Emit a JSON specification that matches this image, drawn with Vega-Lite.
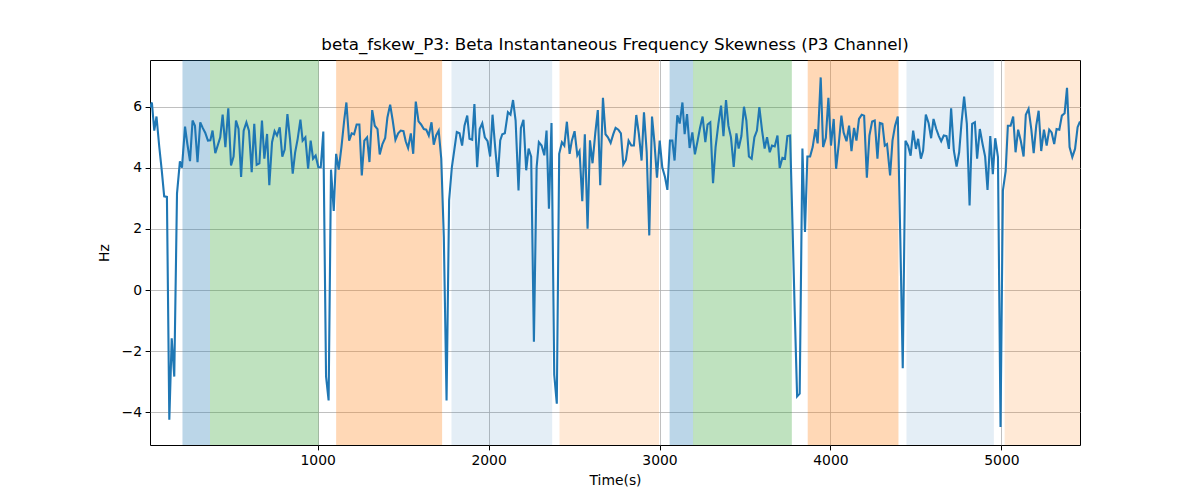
{
"$schema": "https://vega.github.io/schema/vega-lite/v6.json",
"width": 930, "height": 385,
"autosize": "none",
"padding": {"left": 150, "top": 60, "right": 120, "bottom": 55},
"background": "white",
"config": {
 "font": "DejaVu Sans",
 "view": {"stroke": "black", "strokeWidth": 1},
 "axis": {"grid": true, "gridColor": "#b0b0b0", "gridWidth": 0.8, "domain": false, "tickColor": "black", "tickSize": 4.9, "tickWidth": 1, "labelFontSize": 13.9, "labelColor": "black", "labelPadding": 3.5, "titleFontSize": 13.9, "titleFontWeight": "normal", "titleColor": "black", "labelFont": "DejaVu Sans", "titleFont": "DejaVu Sans"}
},
"title": {"text": "beta_fskew_P3: Beta Instantaneous Frequency Skewness (P3 Channel)", "fontSize": 16.7, "fontWeight": "normal", "font": "DejaVu Sans", "color": "black", "offset": 6},
"datasets": {
 "spans": [
  {"start": 209, "end": 370, "kind": "s1"},
  {"start": 370, "end": 1006, "kind": "s2"},
  {"start": 1108, "end": 1728, "kind": "s3"},
  {"start": 1783, "end": 2372, "kind": "s4"},
  {"start": 2415, "end": 2997, "kind": "s5"},
  {"start": 3059, "end": 3196, "kind": "s1"},
  {"start": 3196, "end": 3774, "kind": "s2"},
  {"start": 3867, "end": 4398, "kind": "s3"},
  {"start": 4445, "end": 4956, "kind": "s4"},
  {"start": 5019, "end": 5460, "kind": "s5"}
 ],
 "series": [
  {"t":19,"v":5.98},{"t":30,"v":6.14},{"t":44,"v":5.22},{"t":57,"v":5.68},{"t":73,"v":4.7},{"t":88,"v":3.9},{"t":102,"v":3.07},{"t":118,"v":3.05},{"t":132,"v":-4.24},{"t":146,"v":-1.58},{"t":161,"v":-2.83},{"t":177,"v":3.16},{"t":194,"v":4.21},{"t":206,"v":4.01},{"t":224,"v":5.35},{"t":237,"v":4.8},{"t":253,"v":4.22},{"t":268,"v":5.55},{"t":282,"v":5.38},{"t":297,"v":4.19},{"t":313,"v":5.49},{"t":328,"v":5.3},{"t":342,"v":5.15},{"t":358,"v":4.89},{"t":372,"v":4.9},{"t":385,"v":5.22},{"t":401,"v":4.48},{"t":416,"v":4.75},{"t":430,"v":5.0},{"t":444,"v":5.74},{"t":460,"v":4.68},{"t":477,"v":5.95},{"t":493,"v":4.08},{"t":508,"v":4.37},{"t":522,"v":5.55},{"t":537,"v":5.27},{"t":552,"v":3.7},{"t":567,"v":5.22},{"t":583,"v":5.49},{"t":598,"v":5.22},{"t":614,"v":3.86},{"t":629,"v":5.44},{"t":643,"v":4.1},{"t":659,"v":4.15},{"t":674,"v":5.55},{"t":688,"v":4.3},{"t":704,"v":5.11},{"t":717,"v":3.43},{"t":733,"v":4.84},{"t":748,"v":5.2},{"t":762,"v":5.06},{"t":778,"v":5.33},{"t":793,"v":4.37},{"t":807,"v":4.6},{"t":823,"v":5.76},{"t":838,"v":4.95},{"t":854,"v":3.81},{"t":868,"v":4.5},{"t":883,"v":4.95},{"t":899,"v":5.58},{"t":912,"v":4.89},{"t":928,"v":5.0},{"t":944,"v":3.97},{"t":959,"v":4.89},{"t":973,"v":4.3},{"t":988,"v":4.4},{"t":1004,"v":4.02},{"t":1018,"v":4.02},{"t":1033,"v":5.19},{"t":1049,"v":-2.83},{"t":1064,"v":-3.61},{"t":1078,"v":3.94},{"t":1094,"v":2.59},{"t":1108,"v":4.46},{"t":1123,"v":3.94},{"t":1139,"v":4.68},{"t":1155,"v":5.55},{"t":1168,"v":6.14},{"t":1184,"v":4.89},{"t":1199,"v":5.13},{"t":1213,"v":5.1},{"t":1228,"v":5.42},{"t":1244,"v":5.42},{"t":1258,"v":3.75},{"t":1273,"v":4.89},{"t":1289,"v":5.0},{"t":1303,"v":4.19},{"t":1319,"v":5.89},{"t":1334,"v":5.38},{"t":1350,"v":5.27},{"t":1363,"v":4.44},{"t":1379,"v":4.78},{"t":1395,"v":4.98},{"t":1408,"v":5.65},{"t":1424,"v":6.07},{"t":1439,"v":5.55},{"t":1455,"v":4.92},{"t":1471,"v":5.13},{"t":1486,"v":5.22},{"t":1502,"v":5.2},{"t":1515,"v":4.87},{"t":1529,"v":4.65},{"t":1545,"v":5.13},{"t":1559,"v":4.46},{"t":1574,"v":6.17},{"t":1590,"v":5.52},{"t":1605,"v":5.42},{"t":1621,"v":5.27},{"t":1635,"v":5.25},{"t":1650,"v":5.06},{"t":1666,"v":5.49},{"t":1679,"v":4.76},{"t":1693,"v":5.06},{"t":1708,"v":5.22},{"t":1723,"v":4.3},{"t":1738,"v":1.74},{"t":1754,"v":-3.61},{"t":1769,"v":2.94},{"t":1785,"v":4.02},{"t":1799,"v":4.57},{"t":1814,"v":5.17},{"t":1830,"v":5.13},{"t":1845,"v":4.73},{"t":1859,"v":5.38},{"t":1875,"v":5.71},{"t":1888,"v":4.95},{"t":1904,"v":4.92},{"t":1917,"v":6.09},{"t":1933,"v":4.02},{"t":1948,"v":5.27},{"t":1963,"v":5.46},{"t":1978,"v":5.0},{"t":1994,"v":4.87},{"t":2009,"v":4.37},{"t":2023,"v":5.74},{"t":2039,"v":4.63},{"t":2054,"v":3.7},{"t":2068,"v":4.9},{"t":2080,"v":5.1},{"t":2095,"v":5.13},{"t":2113,"v":5.82},{"t":2128,"v":5.74},{"t":2143,"v":6.22},{"t":2158,"v":5.55},{"t":2175,"v":3.26},{"t":2189,"v":5.31},{"t":2204,"v":5.57},{"t":2220,"v":3.92},{"t":2234,"v":4.63},{"t":2249,"v":4.37},{"t":2265,"v":-1.69},{"t":2281,"v":4.02},{"t":2294,"v":4.84},{"t":2310,"v":4.73},{"t":2326,"v":4.41},{"t":2339,"v":5.22},{"t":2353,"v":2.66},{"t":2368,"v":5.47},{"t":2384,"v":-2.77},{"t":2399,"v":-3.72},{"t":2413,"v":4.46},{"t":2429,"v":4.84},{"t":2443,"v":4.73},{"t":2458,"v":5.51},{"t":2474,"v":4.46},{"t":2487,"v":4.89},{"t":2503,"v":5.2},{"t":2519,"v":4.41},{"t":2532,"v":4.55},{"t":2548,"v":2.91},{"t":2563,"v":5.1},{"t":2579,"v":2.01},{"t":2593,"v":4.9},{"t":2608,"v":4.15},{"t":2624,"v":5.13},{"t":2639,"v":5.89},{"t":2653,"v":3.43},{"t":2669,"v":6.29},{"t":2684,"v":5.1},{"t":2698,"v":5.0},{"t":2714,"v":4.82},{"t":2730,"v":5.11},{"t":2743,"v":5.31},{"t":2759,"v":5.25},{"t":2774,"v":5.13},{"t":2788,"v":4.11},{"t":2803,"v":4.26},{"t":2819,"v":4.89},{"t":2835,"v":4.73},{"t":2850,"v":4.73},{"t":2864,"v":5.73},{"t":2879,"v":5.11},{"t":2895,"v":4.24},{"t":2909,"v":5.82},{"t":2925,"v":4.51},{"t":2940,"v":1.79},{"t":2956,"v":5.68},{"t":2970,"v":4.84},{"t":2985,"v":3.68},{"t":3001,"v":4.89},{"t":3016,"v":4.02},{"t":3032,"v":3.7},{"t":3046,"v":3.28},{"t":3061,"v":4.89},{"t":3075,"v":4.89},{"t":3088,"v":4.24},{"t":3104,"v":5.72},{"t":3118,"v":5.45},{"t":3134,"v":6.14},{"t":3147,"v":5.1},{"t":3161,"v":5.76},{"t":3176,"v":4.65},{"t":3192,"v":5.16},{"t":3207,"v":4.44},{"t":3223,"v":4.89},{"t":3237,"v":5.31},{"t":3252,"v":5.68},{"t":3268,"v":4.84},{"t":3281,"v":5.42},{"t":3297,"v":5.49},{"t":3313,"v":3.5},{"t":3328,"v":4.68},{"t":3344,"v":5.42},{"t":3360,"v":6.04},{"t":3374,"v":5.04},{"t":3389,"v":6.22},{"t":3403,"v":5.38},{"t":3418,"v":5.0},{"t":3434,"v":4.03},{"t":3450,"v":5.13},{"t":3463,"v":4.63},{"t":3479,"v":5.04},{"t":3494,"v":6.0},{"t":3508,"v":5.55},{"t":3523,"v":4.37},{"t":3539,"v":4.3},{"t":3555,"v":5.0},{"t":3570,"v":5.22},{"t":3584,"v":5.99},{"t":3600,"v":5.22},{"t":3615,"v":4.63},{"t":3629,"v":5.0},{"t":3645,"v":4.51},{"t":3658,"v":4.73},{"t":3674,"v":4.7},{"t":3690,"v":5.06},{"t":3703,"v":4.0},{"t":3719,"v":4.33},{"t":3734,"v":4.3},{"t":3748,"v":5.04},{"t":3764,"v":5.06},{"t":3778,"v":2.13},{"t":3791,"v":-0.7},{"t":3805,"v":-3.48},{"t":3820,"v":-3.39},{"t":3836,"v":4.63},{"t":3851,"v":1.9},{"t":3865,"v":4.37},{"t":3881,"v":4.37},{"t":3896,"v":4.68},{"t":3912,"v":5.27},{"t":3925,"v":4.8},{"t":3943,"v":6.96},{"t":3957,"v":4.68},{"t":3973,"v":4.98},{"t":3988,"v":6.29},{"t":4003,"v":4.73},{"t":4019,"v":5.6},{"t":4033,"v":3.97},{"t":4049,"v":4.8},{"t":4064,"v":5.71},{"t":4077,"v":5.16},{"t":4094,"v":4.87},{"t":4109,"v":5.38},{"t":4123,"v":4.55},{"t":4138,"v":5.31},{"t":4152,"v":4.89},{"t":4167,"v":5.6},{"t":4183,"v":5.74},{"t":4197,"v":5.71},{"t":4213,"v":3.68},{"t":4228,"v":5.06},{"t":4244,"v":5.52},{"t":4259,"v":5.55},{"t":4275,"v":4.3},{"t":4289,"v":5.47},{"t":4304,"v":5.44},{"t":4318,"v":4.73},{"t":4331,"v":4.78},{"t":4349,"v":3.75},{"t":4363,"v":4.89},{"t":4378,"v":5.38},{"t":4394,"v":5.68},{"t":4409,"v":1.6},{"t":4423,"v":-2.56},{"t":4439,"v":4.89},{"t":4454,"v":4.73},{"t":4469,"v":4.4},{"t":4484,"v":5.22},{"t":4500,"v":4.62},{"t":4513,"v":4.95},{"t":4529,"v":4.3},{"t":4542,"v":4.56},{"t":4558,"v":5.74},{"t":4574,"v":5.47},{"t":4589,"v":4.97},{"t":4603,"v":5.6},{"t":4619,"v":5.27},{"t":4634,"v":5.04},{"t":4648,"v":4.87},{"t":4663,"v":5.06},{"t":4679,"v":5.04},{"t":4693,"v":4.62},{"t":4706,"v":5.95},{"t":4722,"v":4.56},{"t":4738,"v":4.04},{"t":4753,"v":4.51},{"t":4767,"v":5.49},{"t":4782,"v":6.33},{"t":4798,"v":5.44},{"t":4814,"v":2.77},{"t":4829,"v":5.44},{"t":4845,"v":5.49},{"t":4858,"v":4.3},{"t":4874,"v":5.27},{"t":4890,"v":4.78},{"t":4905,"v":4.37},{"t":4919,"v":3.28},{"t":4935,"v":5.04},{"t":4950,"v":3.79},{"t":4964,"v":4.97},{"t":4980,"v":4.35},{"t":4995,"v":-4.48},{"t":5009,"v":3.26},{"t":5025,"v":3.89},{"t":5038,"v":5.38},{"t":5054,"v":5.38},{"t":5069,"v":5.68},{"t":5083,"v":4.51},{"t":5098,"v":5.25},{"t":5114,"v":4.87},{"t":5130,"v":4.37},{"t":5143,"v":5.74},{"t":5159,"v":5.93},{"t":5175,"v":5.27},{"t":5189,"v":4.48},{"t":5204,"v":5.38},{"t":5218,"v":5.87},{"t":5233,"v":4.55},{"t":5249,"v":5.25},{"t":5265,"v":4.73},{"t":5280,"v":5.25},{"t":5294,"v":5.16},{"t":5309,"v":4.78},{"t":5323,"v":5.27},{"t":5339,"v":5.25},{"t":5354,"v":5.71},{"t":5370,"v":5.79},{"t":5384,"v":6.62},{"t":5399,"v":4.68},{"t":5415,"v":4.35},{"t":5431,"v":4.62},{"t":5446,"v":5.33},{"t":5460,"v":5.52}
 ]
},
"layer": [
 {
  "data": {"name": "spans"},
  "mark": {"type": "rect"},
  "encoding": {
   "x": {"field": "start", "type": "quantitative", "scale": {"domain": [19, 5460], "nice": false, "zero": false}, "title": "Time(s)", "axis": {"values": [1000, 2000, 3000, 4000, 5000], "format": "d", "titlePadding": 6}},
   "x2": {"field": "end"},
   "color": {"field": "kind", "type": "nominal", "legend": null, "scale": {"domain": ["s1", "s2", "s3", "s4", "s5"], "range": ["rgba(31,119,180,0.3)", "rgba(44,160,44,0.3)", "rgba(255,127,14,0.3)", "rgba(31,119,180,0.12)", "rgba(255,127,14,0.17)"]}}
  }
 },
 {
  "data": {"name": "series"},
  "mark": {"type": "line", "color": "#1f77b4", "strokeWidth": 2.1, "clip": true},
  "encoding": {
   "x": {"field": "t", "type": "quantitative", "title": "Time(s)", "axis": {"values": [1000, 2000, 3000, 4000, 5000], "format": "d", "titlePadding": 6}},
   "y": {"field": "v", "type": "quantitative", "scale": {"domain": [-5.07, 7.53], "nice": false, "zero": false}, "title": "Hz", "axis": {"values": [-4, -2, 0, 2, 4, 6], "titlePadding": 10}}
  }
 }
]
}
